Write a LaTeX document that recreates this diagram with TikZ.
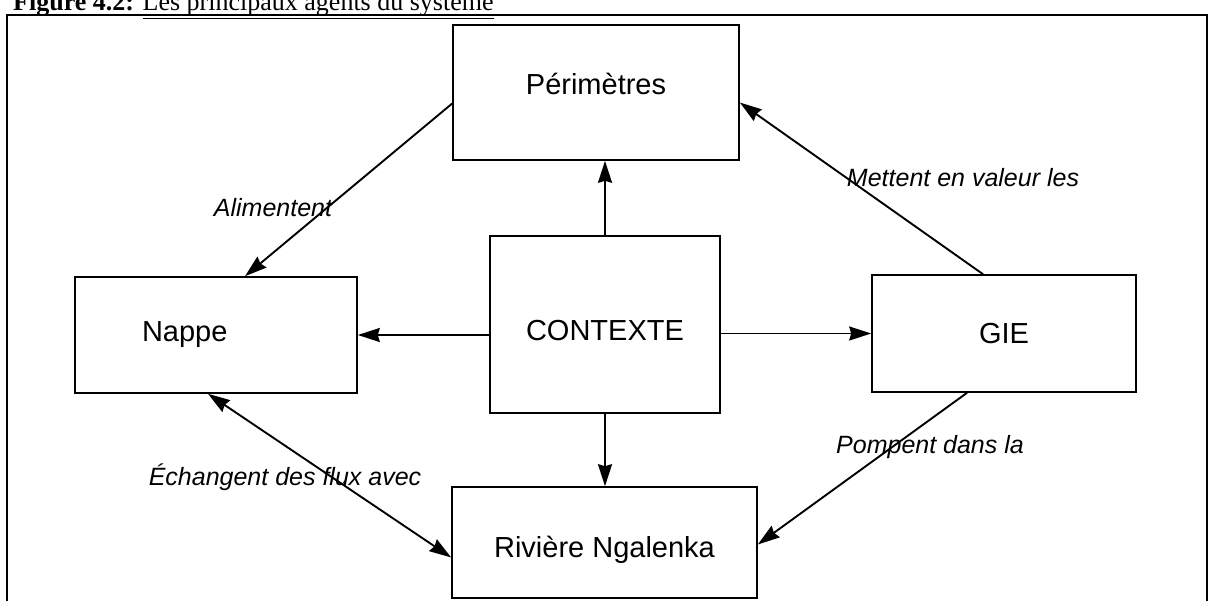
\documentclass[tikz,border=0pt]{standalone}
\usepackage{fontspec}
\setmainfont{Liberation Serif}
\newfontfamily\agentfont{Liberation Sans}
\usetikzlibrary{arrows.meta}
\tikzset{
  agent/.style={draw=black, line width=1.6pt, inner sep=0pt, font=\agentfont\fontsize{29}{34}\selectfont},
  verb/.style={inner sep=0pt, font=\agentfont\itshape\fontsize{25}{30}\selectfont},
  link/.style={line width=1.9pt, -{Stealth[length=22pt,width=14pt,inset=2pt]}},
  both/.style={line width=1.9pt, {Stealth[length=22pt,width=14pt,inset=2pt]}-{Stealth[length=22pt,width=14pt,inset=2pt]}}
}

\begin{document}
\begin{tikzpicture}[x=1pt, y=-1pt]
  \useasboundingbox (0,0) rectangle (1220,601);
  % titre et cadre
  \node[anchor=base west, inner sep=0pt, font=\fontsize{26}{30}\selectfont] (title) at (13,11)
    {\textbf{Figure 4.2:} \underline{Les principaux agents du système}};
  \draw[line width=1.8pt] (7,610) -- (7,15) -- (1207,15) -- (1207,610);

  % les agents
  \node[agent, minimum width=286pt, minimum height=135pt, text depth=18pt] (perim) at (596,92.5) {Périmètres};
  \node[agent, minimum width=282pt, minimum height=116pt, text width=148pt, align=left, inner xsep=67pt] (nappe) at (216,335) {Nappe};
  \node[agent, minimum width=230pt, minimum height=177pt, text height=32pt] (ctx) at (605,324.5) {CONTEXTE};
  \node[agent, minimum width=264pt, minimum height=117pt] (gie) at (1004,333.5) {GIE};
  \node[agent, minimum width=305pt, minimum height=111pt, text height=36pt] (riv) at (604.5,542.5) {Rivière Ngalenka};

  % relations
  \draw[link] (ctx.north) -- (ctx.north |- perim.south);
  \draw[link] (ctx.west |- nappe.east) -- (nappe.east);
  \draw[link] (ctx.east |- gie.west) -- (gie.west);
  \draw[link] (ctx.south) -- (ctx.south |- riv.north);
  \draw[link] ([yshift=-11pt]perim.west) -- ([xshift=29pt]nappe.north);
  \draw[link] ([xshift=-21pt]gie.north) -- ([yshift=-10pt]perim.east);
  \draw[link] ([xshift=-37pt]gie.south) -- ([yshift=-2pt]riv.east);
  \draw[both] ([xshift=-8pt]nappe.south) -- ([yshift=-15pt]riv.west);

  % libelles
  \node[verb] (alim) at (273,208) {Alimentent};
  \node[verb] (valeur) at (963,178) {Mettent en valeur les};
  \node[verb] (echange) at (285,477) {Échangent des flux avec};
  \node[verb] (pompe) at (930,447) {Pompent dans la};
\end{tikzpicture}
\end{document}
